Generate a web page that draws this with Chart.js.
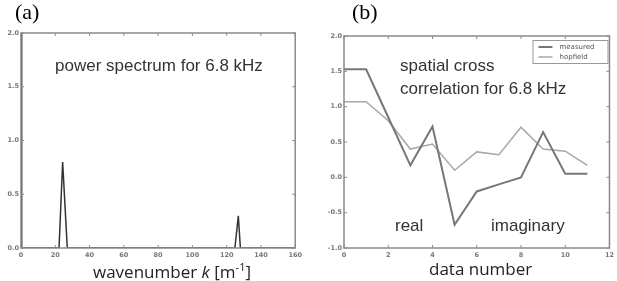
<!DOCTYPE html>
<html>
<head>
<meta charset="utf-8">
<script src="https://cdn.jsdelivr.net/npm/chart.js@4.4.1/dist/chart.umd.min.js"></script>
<style>
  body { margin: 0; background: #fff; width: 617px; height: 281px; overflow: hidden; position: relative; font-family: "Liberation Sans", Arial, sans-serif; }
  canvas { position: absolute; top: 0; }
  .lbl { position: absolute; white-space: nowrap; color: #222; }
  .panel { font-family: "Liberation Serif", serif; font-size: 22px; color: #000; }
  .note { font-size: 17px; color: #333; line-height: 23px; }
  .xt { font-family: "Open Sans", sans-serif; font-size: 17px; color: #222; }
</style>
</head>
<body>
<canvas id="specChart" width="305" height="281" style="left:0"></canvas>
<canvas id="corrChart" width="312" height="281" style="left:305px"></canvas>

<div class="lbl panel" style="left:15px;top:-1px">(a)</div>
<div class="lbl panel" style="left:352px;top:-1px">(b)</div>
<div class="lbl note" style="left:55px;top:54px">power spectrum for 6.8 kHz</div>
<div class="lbl note" style="left:400px;top:54px">spatial cross<br>correlation for 6.8 kHz</div>
<div class="lbl note" style="left:395px;top:214px">real</div>
<div class="lbl note" style="left:491px;top:214px">imaginary</div>
<div class="lbl xt" style="left:93px;top:259px">wavenumber <i>k</i> [m<sup style="font-size:11px">-1</sup>]</div>
<div class="lbl xt" style="left:429px;top:257px">data number</div>

<script>
// panel (a): power spectrum
const wavenumber = [0, 0.4, 22.2, 24.3, 27, 124.8, 126.8, 128, 160];
const power = [2.6, 0, 0, 0.8, 0, 0, 0.3, 0, 0];

// panel (b): spatial cross correlation
const dataNumber = [0, 1, 2, 3, 4, 5, 6, 7, 8, 9, 10, 11];
const measured = [1.53, 1.53, 0.85, 0.17, 0.72, -0.67, -0.2, -0.1, 0.0, 0.64, 0.05, 0.05];
const hopfield = [1.07, 1.07, 0.8, 0.4, 0.47, 0.1, 0.36, 0.32, 0.71, 0.4, 0.37, 0.17];
const seriesNames = ['measured', 'hopfield'];

const tickFont = { size: 6.5, weight: 'bold', family: '"DejaVu Sans", sans-serif' };

// box around the plot area plus small inward ticks, matplotlib style
const frame = {
    id: 'frame',
    afterDraw(chart) {
        const { ctx, chartArea: a, scales } = chart;
        ctx.save();
        ctx.strokeStyle = '#8a8a8a';
        ctx.lineWidth = 1.5;
        ctx.strokeRect(a.left, a.top, a.right - a.left, a.bottom - a.top);
        ctx.lineWidth = 1;
        scales.x.ticks.forEach((t, i) => {
            const x = scales.x.getPixelForTick(i);
            ctx.beginPath();
            ctx.moveTo(x, a.bottom); ctx.lineTo(x, a.bottom - 3);
            ctx.moveTo(x, a.top); ctx.lineTo(x, a.top + 3);
            ctx.stroke();
        });
        scales.y.ticks.forEach((t, i) => {
            const y = scales.y.getPixelForTick(i);
            ctx.beginPath();
            ctx.moveTo(a.left, y); ctx.lineTo(a.left + 3, y);
            ctx.moveTo(a.right, y); ctx.lineTo(a.right - 3, y);
            ctx.stroke();
        });
        ctx.restore();
    }
};

// legend box in the top right corner of the plot
const boxLegend = {
    id: 'boxLegend',
    afterDraw(chart) {
        const { ctx, chartArea: a } = chart;
        const w = 75, h = 23, x0 = a.right - w - 2, y0 = a.top + 4;
        ctx.save();
        ctx.fillStyle = '#fff';
        ctx.fillRect(x0, y0, w, h);
        ctx.strokeStyle = '#999';
        ctx.lineWidth = 1;
        ctx.strokeRect(x0 + 0.5, y0 + 0.5, w, h);
        ctx.font = '7px "DejaVu Sans", sans-serif';
        ctx.textBaseline = 'middle';
        chart.data.datasets.forEach((ds, i) => {
            const y = y0 + 7 + i * 10;
            ctx.strokeStyle = ds.borderColor;
            ctx.lineWidth = ds.borderWidth;
            ctx.beginPath();
            ctx.moveTo(x0 + 6, y); ctx.lineTo(x0 + 20, y);
            ctx.stroke();
            ctx.fillStyle = '#555';
            ctx.fillText(ds.label, x0 + 27, y);
        });
        ctx.restore();
    }
};

function axes(xmin, xmax, xstep, ymin, ymax, ystep, yWidth) {
    return {
        x: {
            type: 'linear', min: xmin, max: xmax,
            grid: { display: false, drawTicks: false, tickLength: 0 },
            border: { display: false },
            ticks: { stepSize: xstep, color: '#777', font: tickFont, padding: 3, maxRotation: 0 },
            afterFit: s => { s.height = 33; }
        },
        y: {
            min: ymin, max: ymax,
            grid: { display: false, drawTicks: false, tickLength: 0 },
            border: { display: false },
            ticks: { stepSize: ystep, color: '#777', font: tickFont, padding: 2, callback: v => v.toFixed(1) },
            afterFit: s => { s.width = yWidth; }
        }
    };
}

const common = {
    responsive: false,
    animation: false,
    plugins: { legend: { display: false }, tooltip: { enabled: false } },
    elements: { point: { radius: 0 }, line: { tension: 0 } }
};

new Chart(document.getElementById('specChart'), {
    type: 'line',
    data: {
        datasets: [{
            data: wavenumber.map((k, i) => ({ x: k, y: power[i] })),
            borderColor: '#333',
            borderWidth: 1.5
        }]
    },
    options: {
        ...common,
        layout: { padding: { left: 0, top: 33, right: 7, bottom: 0 } },
        scales: axes(0, 160, 20, 0, 2, 0.5, 21)
    },
    plugins: [frame]
});

new Chart(document.getElementById('corrChart'), {
    type: 'line',
    data: {
        datasets: [
            {
                label: seriesNames[0],
                data: dataNumber.map((n, i) => ({ x: n, y: measured[i] })),
                borderColor: '#777',
                borderWidth: 2
            },
            {
                label: seriesNames[1],
                data: dataNumber.map((n, i) => ({ x: n, y: hopfield[i] })),
                borderColor: '#a8a8a8',
                borderWidth: 1.5
            }
        ]
    },
    options: {
        ...common,
        layout: { padding: { left: 0, top: 36, right: 4, bottom: 0 } },
        scales: axes(0, 12, 2, -1, 2, 0.5, 39)
    },
    plugins: [frame, boxLegend]
});
</script>
</body>
</html>
